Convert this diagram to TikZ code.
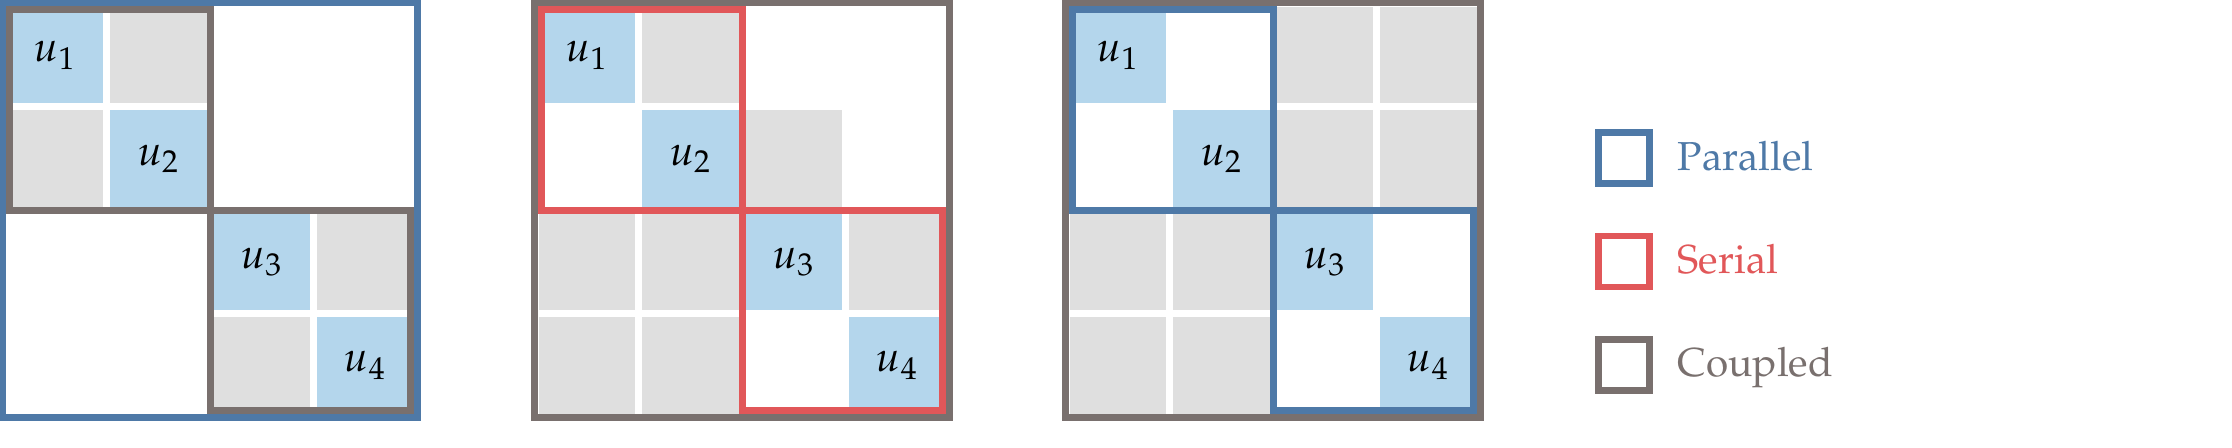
\documentclass[tikz,border=0pt]{standalone}
\usepackage[T1]{fontenc}
\usepackage{mathpazo}
\usetikzlibrary{positioning}
\usetikzlibrary{calc}
\definecolor{parblue}{HTML}{4E79A7}
\definecolor{serred}{HTML}{E15759}
\definecolor{cplgray}{HTML}{79706E}
\definecolor{ublue}{HTML}{B4D6EC}
\definecolor{offgray}{HTML}{DFDFDF}
\tikzset{gcell/.style={minimum size=0.9633cm, inner sep=0pt, fill=offgray}}
\tikzset{ucell/.style={gcell, fill=ublue, font=\fontsize{12}{14}\selectfont}}
\tikzset{blockline/.style={line width=0.07cm}}
\tikzset{legbox/.style={draw, line width=0.066cm, minimum size=0.51cm, inner sep=0pt}}
\tikzset{legtext/.style={inner sep=0pt, anchor=base west, font=\fontsize{11.5}{14}\selectfont}}

\begin{document}
\begin{tikzpicture}[x=0.01cm, y=-0.01cm, on grid, node distance=1.0333cm]
        \useasboundingbox (0,0) rectangle (2232,447);

        % parallel of two coupled blocks
        \node[ucell] (a11) at (55.2,55.2) {$u_1$};
        \node[gcell, right=of a11] (a12) {};
        \node[gcell, below=of a11] (a21) {};
        \node[ucell, right=of a21] (a22) {$u_2$};
        \node[ucell, below right=1.0333cm and 1.0333cm of a22] (a33) {$u_3$};
        \node[gcell, right=of a33] (a34) {};
        \node[gcell, below=of a33] (a43) {};
        \node[ucell, right=of a43] (a44) {$u_4$};

        \coordinate (am) at ($(a22.south east)!0.5!(a33.north west)$);
        \draw[blockline, parblue] ($(a11.north west)-(3.5,3.5)$) rectangle ($(a44.south east)+(3.5,3.5)$);
        \draw[blockline, cplgray] ($(a11.north west)+(3.5,3.5)$) rectangle (am);
        \draw[blockline, cplgray] (am) rectangle ($(a44.south east)-(3.5,3.5)$);

        % coupled of two serial blocks
        \node[ucell] (b11) at (587.2,55.2) {$u_1$};
        \node[gcell, right=of b11] (b12) {};
        \node[ucell, below=of b12] (b22) {$u_2$};
        \node[gcell, right=of b22] (b23) {};
        \node[ucell, below=of b23] (b33) {$u_3$};
        \node[gcell, right=of b33] (b34) {};
        \node[ucell, below=of b34] (b44) {$u_4$};
        \node[gcell, left=of b33] (b32) {};
        \node[gcell, left=of b32] (b31) {};
        \node[gcell, below=of b31] (b41) {};
        \node[gcell, right=of b41] (b42) {};

        \coordinate (bm) at ($(b22.south east)!0.5!(b33.north west)$);
        \draw[blockline, cplgray] ($(b11.north west)-(3.5,3.5)$) rectangle ($(b44.south east)+(3.5,3.5)$);
        \draw[blockline, serred] ($(b11.north west)+(3.5,3.5)$) rectangle (bm);
        \draw[blockline, serred] (bm) rectangle ($(b44.south east)-(3.5,3.5)$);

        % coupled of two parallel blocks
        \node[ucell] (c11) at (1118.2,55.2) {$u_1$};
        \node[ucell, below right=1.0333cm and 1.0333cm of c11] (c22) {$u_2$};
        \node[gcell, right=of c22] (c23) {};
        \node[gcell, right=of c23] (c24) {};
        \node[gcell, above=of c23] (c13) {};
        \node[gcell, above=of c24] (c14) {};
        \node[ucell, below=of c23] (c33) {$u_3$};
        \node[ucell, below right=1.0333cm and 1.0333cm of c33] (c44) {$u_4$};
        \node[gcell, below=of c22] (c32) {};
        \node[gcell, left=of c32] (c31) {};
        \node[gcell, below=of c31] (c41) {};
        \node[gcell, right=of c41] (c42) {};

        \coordinate (cm) at ($(c22.south east)!0.5!(c33.north west)$);
        \draw[blockline, cplgray] ($(c11.north west)-(3.5,3.5)$) rectangle ($(c44.south east)+(3.5,3.5)$);
        \draw[blockline, parblue] ($(c11.north west)+(3.5,3.5)$) rectangle (cm);
        \draw[blockline, parblue] (cm) rectangle ($(c44.south east)-(3.5,3.5)$);

        % legend
        \node[legbox, draw=parblue] (lp) at (1624,158) {};
        \node[legbox, draw=serred, below=of lp] (ls) {};
        \node[legbox, draw=cplgray, below=of ls] (lc) {};

        \node[legtext, text=parblue] (tp) at ($(lp.center)+(53,12)$) {Parallel};
        \node[legtext, text=serred] (ts) at ($(ls.center)+(53,12)$) {Serial};
        \node[legtext, text=cplgray] (tc) at ($(lc.center)+(53,12)$) {Coupled};
    \end{tikzpicture}
\end{document}
